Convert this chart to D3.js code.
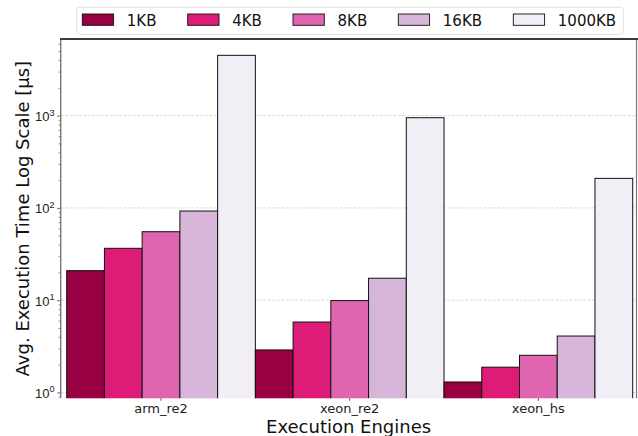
<!DOCTYPE html>
<html>
<head>
<meta charset="utf-8">
<script src="https://cdn.jsdelivr.net/npm/d3@7"></script>
<style>
  html, body { margin: 0; padding: 0; background: #fff; }
  svg { display: block; font-family: "DejaVu Sans", sans-serif; }
</style>
</head>
<body>
<svg id="chart" width="638" height="436"></svg>
<script>
// Execution engines (x categories) and message sizes (series)
const engines = ["arm_re2", "xeon_re2", "xeon_hs"];
const sizes = ["1KB", "4KB", "8KB", "16KB", "1000KB"];

// Average execution time in microseconds, one array per size, ordered by engine
const t1KB    = [20.9, 2.89, 1.3];
const t4KB    = [36.5, 5.8, 1.88];
const t8KB    = [55.2, 9.9, 2.53];
const t16KB   = [92.5, 17.3, 4.09];
const t1000KB = [4500, 949, 209];

const sizeColors = ["#980043", "#dd1c77", "#df65b0", "#d7b5d8", "#f1eef6"];
const yTickValues = [1, 10, 100, 1000];

const series = [t1KB, t4KB, t8KB, t16KB, t1000KB];
const rows = [];
engines.forEach((eng, i) => {
  sizes.forEach((s, j) => rows.push({ engine: eng, size: s, value: series[j][i] }));
});

const svg = d3.select("#chart");
const plot = { left: 60.7, right: 636.5, top: 39, bottom: 398.3 };

// Log-scale y with 5% padding (in log space) around the data range
const vals = rows.map(d => d.value);
const lo = Math.log10(d3.min(vals)), hi = Math.log10(d3.max(vals));
const pad = (hi - lo) * 0.05;
const y = d3.scaleLog()
  .domain([Math.pow(10, lo - pad), Math.pow(10, hi + pad)])
  .range([plot.bottom, plot.top]);

const x0 = d3.scaleBand().domain(engines).range([66.7, 632.7]).padding(0);
const x1 = d3.scaleBand().domain(sizes).range([0, x0.bandwidth()]).padding(0);
const color = d3.scaleOrdinal().domain(sizes).range(sizeColors);

// Dashed horizontal grid at the decades
svg.append("g").selectAll("line")
  .data(yTickValues)
  .join("line")
  .attr("x1", plot.left).attr("x2", plot.right)
  .attr("y1", d => y(d)).attr("y2", d => y(d))
  .attr("stroke", "#cfcfcf").attr("stroke-width", 0.8)
  .attr("stroke-dasharray", "3,1.5");

// Bars
svg.append("g").selectAll("rect")
  .data(rows)
  .join("rect")
  .attr("x", d => x0(d.engine) + x1(d.size))
  .attr("width", x1.bandwidth())
  .attr("y", d => y(d.value))
  .attr("height", d => plot.bottom - y(d.value) + 2)
  .attr("fill", d => color(d.size))
  .attr("stroke", "#111").attr("stroke-width", 1);

// Clear anything that spills below the plot area
svg.append("rect").attr("x", 0).attr("y", plot.bottom).attr("width", 638).attr("height", 40).attr("fill", "#fff");

// Y axis: log ticks drawn with d3.axisLeft, labels as 10^n
const minorTicks = [];
for (let e = -1; e <= 4; e++) {
  for (let m = 2; m <= 9; m++) {
    const v = m * Math.pow(10, e);
    if (v >= y.domain()[0] && v <= y.domain()[1]) minorTicks.push(v);
  }
}
svg.append("g")
  .attr("transform", `translate(${plot.left},0)`)
  .call(d3.axisLeft(y).tickValues(minorTicks).tickSize(2).tickFormat(""))
  .call(g => g.select(".domain").remove())
  .call(g => g.selectAll("line").attr("stroke", "#555").attr("stroke-width", 0.7));

const yAxis = svg.append("g")
  .attr("transform", `translate(${plot.left},0)`)
  .call(d3.axisLeft(y).tickValues(yTickValues).tickSize(3.5).tickPadding(6).tickFormat(""))
  .call(g => g.select(".domain").remove())
  .call(g => g.selectAll("line").attr("stroke", "#555").attr("stroke-width", 0.9));

yAxis.selectAll(".tick").each(function(d) {
  const t = d3.select(this).append("text")
    .attr("x", -6.2).attr("y", 5)
    .attr("text-anchor", "end")
    .attr("fill", "#222")
    .style("font-size", "13px");
  t.append("tspan").text("10");
  t.append("tspan").text(Math.round(Math.log10(d)))
    .attr("dy", -5.5).style("font-size", "9.2px");
});

// X axis ticks and labels
svg.append("g")
  .attr("transform", `translate(0,${plot.bottom})`)
  .call(d3.axisBottom(x0).tickSize(2.5).tickPadding(2.5))
  .call(g => g.select(".domain").remove())
  .call(g => g.selectAll("line").attr("stroke", "#555"))
  .call(g => g.selectAll("text").attr("fill", "#222").style("font-size", "13px")
    .attr("font-family", "DejaVu Sans"));

// Spines
svg.append("line").attr("x1", plot.left).attr("x2", plot.left)
  .attr("y1", plot.top).attr("y2", plot.bottom)
  .attr("stroke", "#777").attr("stroke-width", 1.4);
svg.append("line").attr("x1", plot.right).attr("x2", plot.right)
  .attr("y1", plot.top).attr("y2", plot.bottom)
  .attr("stroke", "#777").attr("stroke-width", 1.2);
svg.append("line").attr("x1", plot.left - 0.7).attr("x2", 638)
  .attr("y1", plot.top).attr("y2", plot.top)
  .attr("stroke", "#3c3c3c").attr("stroke-width", 1.8);

// Axis titles
svg.append("text")
  .attr("x", (plot.left + plot.right) / 2).attr("y", 432.5)
  .attr("text-anchor", "middle").attr("fill", "#111")
  .style("font-size", "18px")
  .text("Execution Engines");
svg.append("text")
  .attr("transform", `translate(28.5,${(plot.top + plot.bottom) / 2}) rotate(-90)`)
  .attr("text-anchor", "middle").attr("fill", "#111")
  .style("font-size", "18px")
  .text("Avg. Execution Time Log Scale [µs]");

// Legend
const legend = svg.append("g");
legend.append("rect")
  .attr("x", 76.7).attr("y", 7.3).attr("width", 546.6).attr("height", 27)
  .attr("rx", 2.5).attr("fill", "#fff").attr("stroke", "#dcdcdc").attr("stroke-width", 0.9);
const swatchX = [82.3, 187.7, 293, 398.3, 513.3];
const items = legend.selectAll("g.item")
  .data(sizes)
  .join("g").attr("class", "item")
  .attr("transform", (d, i) => `translate(${swatchX[i]},0)`);
items.append("rect")
  .attr("x", 0).attr("y", 14).attr("width", 31.3).attr("height", 11.3)
  .attr("fill", d => color(d)).attr("stroke", "#111").attr("stroke-width", 0.9);
items.append("text")
  .attr("x", 44.5).attr("y", 25.7)
  .attr("fill", "#111").style("font-size", "15px")
  .text(d => d);
</script>
</body>
</html>
